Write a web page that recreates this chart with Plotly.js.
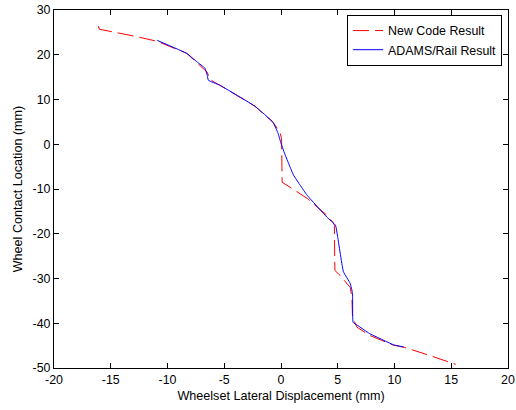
<!DOCTYPE html>
<html>
<head>
<meta charset="utf-8">
<script src="https://cdn.plot.ly/plotly-3.0.1.min.js"></script>
<style>html,body{margin:0;padding:0;background:#fff}#chart{width:516px;height:410px}</style>
</head>
<body>
<div id="chart"></div>
<script>
var newCodeX = [-16.1, -16.0, -13.0, -10.9, -8.3, -7.4, -6.9, -6.5, -6.4, -6.3, -5.4, -2.3, -0.7, -0.1, 0.05, 0.1, 0.8, 1.7, 2.3, 4.05, 4.6, 4.7, 4.75, 5.2, 6.1, 6.25, 6.3, 6.7, 7.8, 9.9, 10.9, 13.1, 14.9, 15.4];
var newCodeY = [26.4, 25.7, 24.2, 23.0, 20.3, 18.3, 17.2, 16.1, 15.4, 14.5, 13.2, 8.5, 4.9, 2.7, 1.3, -8.5, -9.6, -11.0, -12.1, -15.9, -17.5, -18.1, -28.2, -29.3, -32.0, -34.2, -38.7, -40.9, -42.7, -44.9, -45.4, -47.2, -48.9, -49.2];
var adamsX = [-10.9, -8.3, -7.4, -6.7, -6.5, -6.4, -5.4, -2.3, -0.7, -0.25, 0.0, 0.4, 0.8, 1.1, 1.7, 2.3, 4.05, 4.8, 5.0, 5.5, 6.1, 6.3, 6.35, 6.7, 7.8, 9.9, 10.8];
var adamsY = [23.2, 20.3, 18.4, 17.0, 15.4, 14.3, 13.2, 8.5, 4.9, 2.4, 0.2, -2.6, -5.1, -6.9, -9.2, -11.4, -16.3, -18.1, -20.8, -28.5, -31.1, -33.3, -39.8, -40.4, -42.3, -44.8, -45.3];
var xTicks = [-20, -15, -10, -5, 0, 5, 10, 15, 20];
var xTickText = ['-20', '-15', '-10', '-5', '0', '5', '10', '15', '20'];
var yTicks = [-50, -40, -30, -20, -10, 0, 10, 20, 30];
var yTickText = ['-50', '-40', '-30', '-20', '-10', '0', '10', '20', '30'];

var fontFam = 'Liberation Sans, Arial, sans-serif';
var traces = [
  {x: newCodeX, y: newCodeY, mode: 'lines', name: 'New Code Result',
   line: {color: '#ff0000', width: 1, dash: '16px,6px'}},
  {x: adamsX, y: adamsY, mode: 'lines', name: 'ADAMS/Rail Result',
   line: {color: '#0000ff', width: 1, shape: 'spline', smoothing: 0.3}}
];
var axisCommon = {
  showgrid: false, zeroline: false, showline: true, linecolor: '#000', linewidth: 1,
  mirror: 'ticks', ticks: 'inside', ticklen: 5, tickcolor: '#000',
  tickfont: {family: fontFam, size: 12.4, color: '#000'}
};
var layout = {
  width: 516, height: 410,
  margin: {l: 54, r: 8, t: 10, b: 42},
  paper_bgcolor: '#fff', plot_bgcolor: '#fff',
  showlegend: true,
  legend: {x: 0.987, y: 0.986, xanchor: 'right', yanchor: 'top',
           bordercolor: '#000', borderwidth: 1, bgcolor: '#fff',
           entrywidth: 163, entrywidthmode: 'pixels',
           font: {family: fontFam, size: 12.4, color: '#000'}, tracegroupgap: 0},
  xaxis: Object.assign({}, axisCommon, {range: [-20, 20], tickvals: xTicks, ticktext: xTickText,
    title: {text: 'Wheelset Lateral Displacement (mm)', font: {family: fontFam, size: 12.6, color: '#000'}, standoff: 5}}),
  yaxis: Object.assign({}, axisCommon, {range: [-50, 30], tickvals: yTicks, ticktext: yTickText,
    title: {text: 'Wheel Contact Location (mm)', font: {family: fontFam, size: 12.6, color: '#000'}, standoff: 7}})
};
Plotly.newPlot('chart', traces, layout, {displayModeBar: false, staticPlot: true});
</script>
</body>
</html>
